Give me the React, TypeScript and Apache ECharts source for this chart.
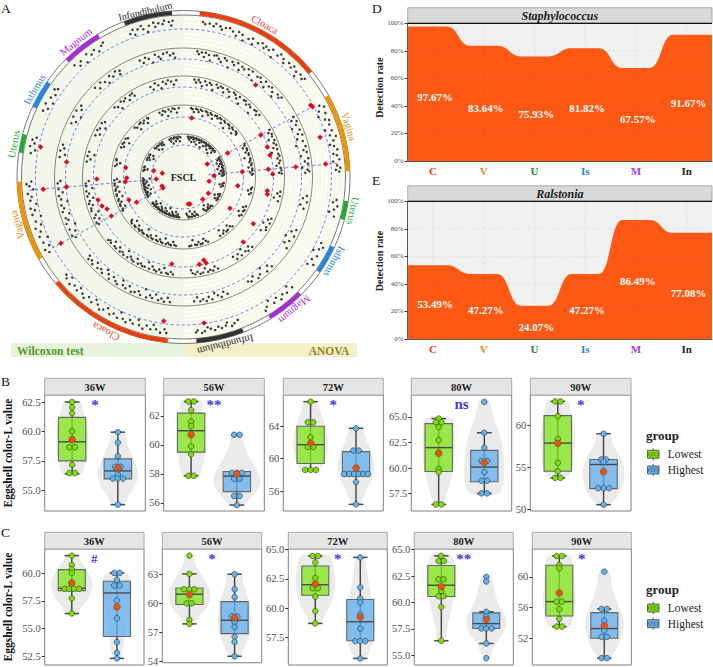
import React, { useEffect, useRef } from "react";
import * as echarts from "echarts";

const SERIF = "Liberation Serif";

// ---------- Panel A data ----------
const sectionLabels: any[] = [
  ["Infundibulum", "#222222", 347, 339, 356, "#333333"],
  ["Cloaca", "#f0431e", 28, 5.7, 50.6, "#ec3f0c"],
  ["Vagina", "#e8900f", 73, 60.6, 88, "#ef9500"],
  ["Uterus", "#22b030", 101.3, 98.4, 105, "#1dac2e"],
  ["Isthmus", "#2a86d8", 119.3, 115, 125, "#1e88e5"],
  ["Magnum", "#a030e0", 140, 135, 148.5, "#a52bd8"],
  ["Infundibulum", "#222222", 166, 158.8, 175.5, "#333333"],
  ["Cloaca", "#f0431e", 206.6, 185.5, 230.3, "#ec3f0c"],
  ["Vagina", "#e8900f", 254, 240.3, 268.4, "#ef9500"],
  ["Uterus", "#22b030", 281, 278.5, 285, "#1dac2e"],
  ["Isthmus", "#2a86d8", 300.5, 295, 305, "#1e88e5"],
  ["Magnum", "#a030e0", 321.5, 315, 329, "#a52bd8"],
];
const solidRadii = [129, 101, 72, 43];
const trackRadii = [166.5, 162];
const dashedRadii = [148, 118, 90, 60, 32];
const faintRadii = [8, 16, 24, 38, 47, 52, 56, 65, 69, 77, 82, 86, 94, 97, 106, 110, 114, 122, 126, 133, 137, 141, 145, 152, 156];
const rayAngles = [[61.4, 25, 150], [84.9, 25, 156], [241.6, 20, 152], [265.1, 25, 156]];
const redPoints = [
  [146, 281.9], [117.8, 277.3], [86.8, 268.7], [58.5, 279.1], [56.8, 269], [30.5, 282], [21.5, 280], [27.3, 265.8],
  [59.6, 7.9], [117, 38.1], [146, 60.6], [147, 61.4], [142.2, 73.8], [142.8, 84.8], [112.6, 84.9], [85.1, 84.8],
  [89.3, 88.1], [89.2, 75.9], [89, 70.3], [87.9, 61.5], [50.3, 61.5], [59, 84.8], [27.1, 61.4], [30.5, 87.6],
  [140.7, 265], [117.6, 265.1], [88.5, 254.9], [86.5, 250.4], [82.9, 247.3], [82, 241.6], [139.3, 241.6], [59.2, 247.1],
  [53.2, 241.6], [58.4, 265.4], [23.3, 247.3], [23.3, 241.8], [27.4, 170], [87.8, 187.7], [145.4, 187.8],
  [25.9, 99.6], [54.9, 99.1], [84.9, 99.3], [85.6, 101.7], [29.7, 123.3], [29.4, 139.3], [27.8, 166.5], [56, 123.9],
  [84, 123.8], [88.3, 137.4], [85.4, 166.3], [88.9, 165.3], [88.7, 169.7], [147.4, 172],
];
// angle, depth below the ring's solid circle
const ring1Dots = [339.6,9.5,340.9,6.2,341.3,11.8,342.7,7.4,344.2,5.1,344.8,8.9,346.3,12.6,347.1,6.8,348.9,4.7,349.4,9.2,350.7,6.1,352.2,7.7,352.9,4.4,354.6,6.3,355.4,9.9,356,5.4,
  7.2,5.8,8.1,7.6,9.7,6.4,11.3,8.2,12.1,5.3,13.8,6.9,14.6,9.7,15.9,7.1,17.4,6,18.8,8.3,20.3,11.4,21,6.7,22.6,8,23.4,13.3,25.2,9.4,26.7,7.2,27.3,12.7,29.1,8.8,30.6,6.6,31.8,10.2,32.4,7.5,33.9,9.1,35.2,6.2,36.1,13.9,37.7,8.4,38.6,5.2,40.3,7.3,41.2,10.6,42.8,6.5,44.4,8.7,45.1,5.6,46.9,7.9,47.6,12.2,48.8,6.4,50.3,8.5,51,5.9,
  62.3,8.6,63.4,4.8,64.2,11.7,65.7,6.3,66.1,14.4,67.9,9.3,68.6,5.5,70.2,7.1,71.8,12.9,72.5,6.6,74.1,9.8,74.9,4.2,76.3,7.7,77.6,12.1,78.4,8.3,79.8,5.7,81.2,10.3,81.9,7.2,83.5,5.1,84.1,11.5,85.7,7.9,86.6,4.9,87.3,9.4,88,6.1,
  98.5,7.2,99.6,10.4,100.8,5.3,102.2,8.1,103.4,12.3,104.7,6.5,115.6,9.2,116.9,5.6,118.1,8.4,119.3,13.1,120.7,6.8,122.6,9.7,124.1,5.2,125,10.8,
  135.4,7.3,136.8,11.9,138.2,6.7,139.9,8.6,141.3,5.4,142.6,9.9,144.2,6.9,145.7,12.2,147.3,7.8,148.4,5,
  159.2,9.1,160.8,7.2,161.9,5.3,163.4,10.2,164.1,7.6,165.7,6.1,166.9,8.3,168.3,5.7,169.8,7.9,170.9,9.8,172.1,6.4,173.2,4.9,174.7,8.1,175.4,6.2,
  186.3,5.1,187.1,8.6,188.6,4.6,190.2,7.3,191.4,11.2,192.3,6.2,193.9,9,195.2,4.8,196.7,7.5,197.4,12.3,199.1,6.9,200.5,9.4,201.8,5.7,203.2,7.8,204.6,13.1,205.3,6.3,207.1,8.7,208.4,5.9,209.9,10.7,211.2,7.1,212.5,4.9,213.9,8.4,215.3,11.6,216.4,6.6,218.2,9.2,219.6,5.2,220.9,7.7,222.7,10.9,223.3,6.4,225.1,8.3,226.8,5.6,227.9,12.1,229.1,7.4,230.2,9.5,
  240.8,8.3,242.2,5.6,243.1,11.4,244.9,7.2,246.3,13.6,247.4,6.2,249.1,9.1,250.7,5.3,251.6,11.9,253.2,7.7,254.8,14.2,255.9,6.3,257.4,9.8,258.3,5.9,259.7,12.4,261.2,7.1,262.6,8.9,263.8,5.4,265.3,11.3,266.6,7.6,267.4,4.9,268.3,9.7,
  278.9,7.4,280.2,11.2,281.4,5.6,282.7,9.3,283.9,6.4,285,10.1,295.3,6.7,296.7,10.3,298.1,5.8,299.4,12.2,300.9,7.4,302.6,10,304.2,6.1,305,8.8,
  315.7,5.9,317.2,10.4,318.4,7.3,320.1,12.5,321.6,5.4,323.1,8.9,324.8,6.6,326.2,10.7,327.9,7.1,329,5.2];
const ring2Dots = [339.4,4.6,340.8,8.2,342.1,3.7,343.6,5.9,345.2,10.6,346.8,3.4,348.3,6.3,349.1,8.7,350.6,4.2,352.4,3.3,353.7,6.6,355.3,5,356,9.4,
  6.3,2.6,7.1,5.2,8.4,3.1,9.6,7.3,10.2,2.8,11.8,4.4,12.7,9.6,14.3,3.6,15.4,2.9,16.6,5.7,17.9,8.1,19.2,3.2,20.4,4.8,21.9,11,23.1,3.9,24.3,6.2,25.7,2.7,27.2,8.6,28.1,4.1,29.4,5.3,31.2,3,32.6,7.9,33.3,2.8,35.1,10.7,36.4,4.4,37.8,3.3,39.2,6.4,40.9,2.9,41.6,8.8,43.3,4.6,44.7,3.1,46.2,6.1,47.4,9.9,48.8,3.7,50.1,5.4,51,2.8,
  61.3,3.9,62.6,7.5,63.7,2.8,65.1,5.1,66.2,10.3,67.8,3.6,69.4,6.9,70.3,2.9,71.7,9.2,73.2,4.4,74.6,12.2,75.8,3.1,77.3,6,78.5,3.3,79.9,9.7,81.4,2.8,82.7,6.6,83.9,3.8,85.5,10.1,86.6,4.7,87.4,3,88,7.2,
  98.7,4.2,100.1,7.8,101.6,3.1,103.2,9,104.8,4.9,115.2,4.3,116.7,8.1,118.3,3.5,119.6,11.3,121.2,5.4,122.9,8.7,124.6,3.7,
  135.3,3.4,136.7,7.2,138.4,2.9,140.1,10.2,141.8,5.3,143.4,3.2,145.2,7.9,146.9,4.4,148.3,6.1,
  159.3,4.3,160.9,7.6,162.3,3.1,163.8,5.8,165.2,8.9,166.7,3.4,168.1,6.5,169.4,2.8,170.9,5.2,172.3,3.6,173.6,7.9,175.1,4.2,
  186.2,3.2,187.4,7.1,188.9,2.8,190.3,5.4,191.7,3.3,193.1,8.4,194.6,3.9,195.8,6,197.3,2.9,198.5,10.6,200.2,3.3,201.4,6.2,203.1,4.1,204.7,2.7,206.2,7.3,207.6,3.5,209.3,5.1,210.1,9.4,211.9,3,213.2,4.6,214.8,7.2,216.3,2.8,217.6,6.4,219.1,9.3,220.4,3.1,221.8,5.6,223.4,3.7,224.9,7.8,226.3,2.9,227.7,5.2,229.2,3.4,230,6.7,
  240.9,5.6,242.3,3,243.7,8.4,245.2,3.6,246.8,11.1,248.1,2.9,249.6,6.2,250.7,4.3,252.4,9.2,253.8,3.2,255.3,5.6,256.9,3.7,258.2,10.4,259.6,4.6,261.3,2.9,262.8,7.2,264.4,3.5,265.7,12.1,267.1,3,268.2,5.8,
  279.2,3.6,280.6,8.3,282.1,3,283.5,6.4,285,4.2,295.6,4.7,297.1,8.2,298.7,3.4,300.2,10.4,301.8,3,303.4,7.1,304.9,4.3,
  315.2,3.3,316.8,7.4,318.6,3,320.4,5.7,321.9,9.3,323.6,3.6,325.1,6.4,327,3.1,328.4,8.3,329,4.9];
const ring3Dots = [339.8,5.1,341.2,8.6,342.9,3.1,344.6,5.8,346.1,9.7,347.7,3.6,349.3,6.2,350.8,3,352.6,4.7,354.1,8.1,355.7,3.9,
  6.4,3,7.6,5.6,8.9,2.7,10.1,4.9,11.4,8.4,12.8,2.9,14.2,6.1,15.6,3.2,16.9,4.6,18.3,9.3,19.7,2.8,21.1,5.4,22.4,3.1,23.8,3.7,25.1,7.6,26.7,2.9,28.2,4.3,29.6,8.7,30.9,2.6,32.3,3.6,33.8,6.4,35.2,3,36.6,9.6,38.1,3.3,39.4,2.7,40.8,5.2,42.3,3.1,43.7,4.4,45.1,10.1,46.6,3.4,47.9,2.8,49.3,5.6,50.7,3,
  61.2,2.9,62.7,5.4,63.9,2.7,65.3,3.6,66.6,8.2,67.9,2.9,69.4,4.7,70.8,2.8,72.1,6.6,73.4,3.2,74.7,9.4,76.2,3.4,77.5,2.7,78.8,5.1,80.3,3,81.7,4.4,83.1,7.3,84.6,3.5,86.1,2.9,87.4,5.3,88,2.7,
  98.6,3,99.9,5.7,101.3,2.8,102.8,8.4,104.4,3.6,115.4,3.7,116.8,6.3,118.3,3,119.7,9.1,121.3,4.2,122.8,3,124.5,7.3,
  135.5,3,137.1,6.2,138.6,2.7,140.2,4.4,141.8,9.2,143.3,3.4,144.9,6.6,146.7,3,148.2,7.1,
  159.3,3.2,160.9,6.3,162.4,2.8,163.9,4.4,165.4,3,166.9,7.2,168.4,3.5,170,2.7,171.6,5.2,173.1,3,174.6,4.3,175.4,7.4,
  186.2,3,187.6,5.2,189.1,2.7,190.3,3.4,191.8,8.1,193.1,2.9,194.7,5.3,196.2,2.7,197.6,3.7,199.1,6.4,200.6,3,202,9.1,203.4,3.3,204.9,2.8,206.3,4.6,207.8,3,209.2,7.3,210.7,2.7,212.1,3.5,213.5,5.6,215,3,216.3,9.2,217.7,2.7,219.1,4.4,220.6,3,222,6.3,223.4,2.8,224.9,3.3,226.2,7.4,227.8,3,229.1,4.4,230.1,2.8,
  240.9,4.3,242.4,2.8,243.8,7.2,245.3,3,246.7,5.4,248.1,9.2,249.7,2.9,251.2,3.6,252.8,6.2,254.1,2.7,255.6,4.3,257.1,8.4,258.6,3,260.1,5.2,261.6,2.8,263.1,9.1,264.6,3.3,266.2,3,267.6,6.1,
  279.1,3,280.7,6.4,282.3,2.8,283.8,9.2,285,3.4,295.3,3.5,296.9,7.2,298.6,2.8,300.2,4.4,301.9,9.1,303.4,3,305,5.3,
  315.3,3,316.9,5.3,318.4,9.1,320.2,2.8,321.8,4.6,323.5,3,325.1,7.2,326.7,3.3,328.3,2.8,329,6.1];
const ring4Dots = [339.5,3.4,341,6.3,342.7,2.6,344.4,4.2,346,9.1,347.5,2.9,349.2,5.3,350.9,2.6,352.6,3.4,354.2,7.2,356,2.8,
  6.3,2.7,7.6,3.6,9,6.2,10.4,2.6,11.8,3,13.1,5.3,14.5,2.5,15.9,3.4,17.3,8.1,18.8,2.6,20.2,3.1,21.6,5.4,23,2.6,24.5,3.6,25.9,7.2,27.3,3,28.8,2.6,30.2,4.3,31.7,2.7,33.1,3,34.6,6.4,36,2.6,37.4,3.4,38.9,9.1,40.3,2.7,41.7,3,43.2,5.2,44.6,2.6,46.1,3.5,47.5,7.3,48.9,2.7,50.4,3.2,51,4.6,
  61.4,2.7,62.8,3.4,64.2,6.2,65.7,2.6,67.1,3,68.5,5.3,70,2.6,71.4,3.3,72.9,8.2,74.3,2.7,75.8,3,77.2,4.4,78.7,2.6,80.1,3.2,81.6,6.3,83,2.7,84.5,3,86,5.2,87.3,2.6,88,3.6,
  98.7,2.7,100.2,3.4,101.7,6.1,103.3,2.6,104.8,4.2,115.2,3,116.8,5.3,118.5,2.6,120,3.4,121.6,7.3,123.2,2.7,124.8,4.3,
  135.2,2.6,136.8,4.4,138.4,7.1,140,3,141.6,2.6,143.2,5.2,144.9,3,146.5,8.1,148.1,2.7,
  159.1,2.7,160.7,4.4,162.3,7.1,163.9,3,165.5,2.6,167.1,5.2,168.7,2.7,170.3,3.4,171.9,8.2,173.5,3,175.1,2.6,
  186.2,2.6,187.6,3.4,189,6.3,190.4,2.7,191.9,3,193.3,4.4,194.8,2.6,196.2,8.1,197.7,2.7,199.1,3.2,200.6,5.3,202,2.6,203.5,3.4,204.9,7.2,206.4,2.7,207.8,3,209.3,5.1,210.7,2.6,212.2,3.4,213.6,9.2,215.1,2.7,216.5,3,218,4.4,219.4,2.6,220.9,3.4,222.3,6.3,223.8,2.7,225.2,3,226.7,8.1,228.1,2.6,229.6,3.4,230.2,5.1,
  241,2.7,242.5,3.5,243.9,7.1,245.4,2.6,246.8,3,248.3,5.2,249.8,2.7,251.2,3.4,252.7,8.1,254.2,2.6,255.6,3,257.1,6.2,258.6,2.7,260,3.4,261.5,5.3,263,2.6,264.4,3,265.9,8.1,267.3,2.7,268.2,5.4,
  279.1,2.7,280.7,4.4,282.3,7.2,283.9,3,285,2.6,295.4,3,297,5.2,298.6,2.6,300.2,3.4,301.9,8.1,303.5,2.7,305,4.3,
  315.3,2.6,316.9,4.4,318.5,8.2,320.2,3,321.8,2.6,323.4,5.1,325,3,326.7,7.3,328.3,2.7,329,3.6];
const ring5Dots = [339.3,3.1,341,5.4,342.2,2.4,343.7,8.2,345.1,3.4,346.8,2.3,348.1,6.3,349.6,2.9,351.2,4.4,352.7,2.2,354.1,7.1,355.6,3.2,
  6.2,2.3,7.4,3.6,8.7,5.3,9.9,2.4,11.1,2.9,12.4,7.2,13.6,2.2,14.9,4.1,16.1,2.7,17.3,6.3,18.6,2.3,19.8,3.4,21.1,8.2,22.3,2.4,23.6,3,24.8,5.2,26,2.2,27.3,3.6,28.5,9.1,29.8,2.4,31,2.8,32.3,6.4,33.5,2.3,34.8,3.5,36,5.1,37.3,2.2,38.5,2.9,39.8,7.3,41,2.4,42.3,4.2,43.5,2.6,44.8,9.2,46,2.3,47.3,3.4,48.5,6.1,49.8,2.4,51,3,
  61.3,2.3,62.6,3.6,63.9,5.4,65.2,2.3,66.5,2.9,67.8,7.2,69.1,2.4,70.4,4.3,71.7,2.6,73,6.2,74.3,2.3,75.6,3.4,76.9,8.1,78.2,2.4,79.5,2.9,80.8,5.2,82.1,2.2,83.4,3.6,84.7,7.1,86,2.4,87.3,3,88,4.6,
  98.6,2.3,100,3.6,101.4,6.2,102.8,2.4,104.2,4.3,115.1,2.7,116.6,4.4,118,2.3,119.5,7.2,121,3.1,122.4,2.3,123.9,5.3,125,2.7,
  135.3,2.3,136.8,3.6,138.3,6.2,139.8,2.4,141.3,4.3,142.8,2.6,144.3,8.1,145.8,2.3,147.3,3.4,148.4,5.2,
  159.2,2.3,160.7,3.6,162.2,6.4,163.7,2.4,165.2,2.9,166.7,5.1,168.2,2.3,169.7,8.1,171.2,2.7,172.7,2.3,174.2,4.3,175.4,6.2,
  186.1,2.3,187.3,2.8,188.5,5.2,189.7,2.4,190.9,3.6,192.1,7.3,193.3,2.3,194.5,2.9,195.7,4.4,196.9,2.3,198.1,6.1,199.3,2.8,200.5,2.3,201.7,3.6,202.9,9.2,204.1,2.4,205.3,2.7,206.5,5.3,207.7,2.3,208.9,3.4,210.1,7.1,211.3,2.3,212.5,2.9,213.7,4.4,214.9,2.3,216.1,6.2,217.3,2.8,218.5,2.3,219.7,3.6,220.9,8.1,222.1,2.4,223.3,2.7,224.5,5.2,225.7,2.3,226.9,3.4,228.1,6.4,229.3,2.3,230.1,3,
  241,2.3,242.2,3.4,243.4,6.2,244.6,2.3,245.8,2.9,247,4.4,248.2,2.4,249.4,8.1,250.6,2.7,251.8,2.3,253,5.3,254.2,2.4,255.4,3.6,256.6,7.2,257.8,2.3,259,2.8,260.2,4.3,261.4,2.4,262.6,6.1,263.8,2.7,265,2.3,266.2,3.4,267.4,9.1,268.2,2.4,
  279,2.3,280.5,3.6,282,6.3,283.5,2.4,285,2.9,295.2,2.7,296.7,5.2,298.2,2.3,299.7,3.6,301.2,8.1,302.7,2.4,304.2,2.9,305,6.2,
  315.2,2.3,316.7,3.4,318.2,6.3,319.7,2.4,321.2,2.9,322.7,8.2,324.2,2.3,325.7,4.4,327.2,2.7,328.7,2.3,329,5.3];
const ringDots = [[162, ring1Dots], [129, ring2Dots], [101, ring3Dots], [72, ring4Dots], [43, ring5Dots]];

// ---------- Panels D, E data ----------
const sites = ["C", "V", "U", "Is", "M", "In"];
const siteColors = ["#e83a20", "#d8901a", "#2e7d32", "#2a86d8", "#a040f0", "#222222"];
const staphValues = [97.67, 83.64, 75.93, 81.82, 67.57, 91.67];
const staphLabelY = [46.5, 38.5, 34.2, 38.5, 30.3, 42.4];
const ralstValues = [53.49, 47.27, 24.07, 47.27, 86.49, 77.08];
const ralstLabelY = [25.4, 21.3, 8.7, 21.3, 41.9, 33.5];

// ---------- Panels B, C data: [value, beeswarm offset], box = [lo, q1, median, q3, hi] ----------
const b36LowDots = [[62.5,0],[62.05,0],[61.56,0],[60.03,0],[58.66,-.06],[58.66,.06],[57.16,0],[56.47,-.06],[56.47,.06]];
const b36LowBox = [56.4,57.5,59.12,61.2,62.5]; const b36LowMean = 59.32;
const b36LowViolin = [[62.6,.16],[61.5,.26],[60,.34],[58.5,.34],[57.2,.28],[56.3,.18]];
const b36HighDots = [[59.94,0],[59.06,0],[57.9,0],[57,-.06],[57,.06],[56.33,0],[56,-.11],[56,0],[56,.11],[53.78,0]];
const b36HighBox = [53.78,55.97,56.65,57.67,59.94]; const b36HighMean = 56.9;
const b36HighViolin = [[60,.12],[59,.2],[57.8,.33],[56.5,.44],[55.4,.38],[54.6,.25],[53.7,.1]];

const b56LowDots = [[63,-.06],[63,.06],[62.4,0],[61.6,0],[61.3,0],[60.7,0],[59.9,0],[59.35,0],[57.86,-.06],[57.86,.06]];
const b56LowBox = [57.86,59.5,60.98,62.2,63]; const b56LowMean = 60.7;
const b56LowViolin = [[63.1,.2],[62.2,.26],[61,.3],[60,.3],[59,.28],[58.4,.24],[57.8,.16]];
const b56HighDots = [[60.7,-.06],[60.7,.06],[58.07,-.11],[58.07,0],[58.07,.11],[57.65,-.06],[57.65,.06],[56.47,-.06],[56.47,.06],[55.84,0]];
const b56HighBox = [55.84,56.77,57.84,58.16,58.16]; const b56HighMean = 57.98;
const b56HighViolin = [[60.8,.12],[60,.16],[59,.3],[58,.48],[57.2,.5],[56.5,.35],[55.8,.12]];

const b72LowDots = [[67.05,0],[64.5,-.06],[64.5,.06],[62.64,0],[61.6,0],[61.44,-.06],[61.44,.06],[58.6,-.12],[58.6,0],[58.6,.12]];
const b72LowBox = [58.6,59.4,61.73,64,67.05]; const b72LowMean = 61.9;
const b72LowViolin = [[67.1,.12],[66,.2],[64.5,.3],[62,.38],[60,.33],[58.6,.18]];
const b72HighDots = [[63.75,0],[61,-.06],[61,.06],[58.1,-.26],[58.1,-.15],[58.1,-.04],[58.1,.06],[58.1,.16],[58.1,.26],[57.1,0],[54.35,0]];
const b72HighBox = [54.35,57.85,58.3,60.87,63.75]; const b72HighMean = 58.85;
const b72HighViolin = [[63.8,.12],[62.5,.22],[61,.32],[59,.4],[57.5,.35],[56,.22],[54.3,.08]];

const b80LowDots = [[64.84,0],[64.48,-.06],[64.48,.06],[64.02,0],[62.75,0],[61.5,0],[59.93,0],[59.6,0],[56.44,-.06],[56.44,.06]];
const b80LowBox = [56.44,59.67,62,64.35,64.84]; const b80LowMean = 61.44;
const b80LowViolin = [[64.9,.28],[63.5,.35],[62,.36],[60.5,.34],[59,.28],[57.5,.18],[56.4,.1]];
const b80HighDots = [[66.47,0],[63.46,0],[62,0],[60.7,-.06],[60.7,.06],[59.6,0],[58.76,-.06],[58.76,.06],[57.52,-.06],[57.52,.06]];
const b80HighBox = [57.52,58.66,60.1,61.73,63.46]; const b80HighMean = 60.55;
const b80HighViolin = [[66.6,.1],[65,.2],[63.5,.32],[62,.4],[60,.44],[58.5,.42],[57.5,.3]];

const b90LowDots = [[62.9,-.06],[62.9,.06],[61.15,0],[58.4,0],[57.9,0],[55.56,0],[54.56,0],[53.76,-.06],[53.76,.06]];
const b90LowBox = [53.76,54.56,57.92,61.2,62.9]; const b90LowMean = 57.88;
const b90LowViolin = [[63,.2],[61.5,.3],[59,.37],[57,.36],[55,.32],[53.7,.18]];
const b90HighDots = [[59.04,0],[55.96,-.05],[55.96,.05],[55.68,0],[52.52,-.12],[52.52,0],[52.52,.12],[50.56,0]];
const b90HighBox = [50.56,52.48,55.36,55.96,59.04]; const b90HighMean = 54.48;
const b90HighViolin = [[59.2,.12],[57.8,.2],[56,.38],[54.5,.46],[53,.42],[51.5,.3],[50.5,.1]];

const c36LowDots = [[61.6,0],[60.75,0],[60.36,0],[60.03,0],[59.13,0],[58.6,-.16],[58.6,-.06],[58.6,.05],[58.6,.16],[57.74,0],[56.36,0]];
const c36LowBox = [56.36,58.43,58.64,60.33,61.6]; const c36LowMean = 59.13;
const c36LowViolin = [[61.7,.12],[61,.22],[60,.38],[59,.46],[58,.4],[57.2,.26],[56.3,.1]];
const c36HighDots = [[60.03,-.06],[60.03,.06],[59.4,0],[58.9,-.06],[58.9,.06],[57.53,0],[55.93,0],[53.76,0],[52.8,0],[52.3,0]];
const c36HighBox = [52.3,54.28,58.22,59.28,60.03]; const c36HighMean = 56.96;
const c36HighViolin = [[60.1,.2],[59,.34],[58,.3],[56,.22],[54.5,.18],[53.3,.14],[52.3,.08]];

const c56LowDots = [[64.92,0],[63.03,0],[61.45,-.12],[61.45,0],[61.45,.11],[60,-.06],[60,.05],[58.3,0],[57.88,0]];
const c56LowBox = [57.88,59.87,60.94,61.58,63.03]; const c56LowMean = 60.9;
const c56LowViolin = [[65,.08],[64,.14],[63,.26],[61.5,.44],[60.5,.46],[59.5,.38],[58.5,.2],[57.8,.1]];
const c56HighDots = [[63,0],[61.45,0],[60.64,0],[58.65,-.06],[58.65,.06],[58.08,0],[57.57,0],[56.56,0],[56.02,0],[54.54,0]];
const c56HighBox = [54.54,56.87,58.25,60.17,63]; const c56HighMean = 58.5;
const c56HighViolin = [[63.1,.14],[62,.2],[60.5,.3],[58.5,.37],[57,.34],[55.5,.22],[54.5,.1]];

const c72LowDots = [[64.46,-.06],[64.46,.06],[63.9,0],[62.57,0],[61.7,-.06],[61.7,.06],[60.97,0],[59.74,0],[58.69,0]];
const c72LowBox = [58.69,61.1,62,63.6,64.46]; const c72LowMean = 62.06;
const c72LowViolin = [[64.5,.3],[63.5,.4],[62.3,.44],[61,.4],[60,.3],[59.2,.18],[58.6,.1]];
const c72HighDots = [[64.34,0],[61.77,0],[60.83,0],[60.49,0],[59.46,0],[58.26,0],[57.17,-.11],[57.17,0],[57.17,.11],[55.69,0]];
const c72HighBox = [55.69,57.2,58.83,60.74,64.34]; const c72HighMean = 59.23;
const c72HighViolin = [[64.4,.08],[63,.15],[61.5,.22],[59.5,.3],[58,.33],[56.8,.25],[55.6,.1]];

const c80LowDots = [[64.42,0],[63.94,-.06],[63.94,.06],[62.2,-.06],[62.2,.05],[61.1,0],[60.6,-.06],[60.6,.05],[59.59,0],[56.37,0]];
const c80LowBox = [56.37,60.57,61.64,63.5,64.42]; const c80LowMean = 61.5;
const c80LowViolin = [[64.5,.2],[63,.33],[61.5,.33],[60,.26],[58.5,.18],[57.3,.12],[56.3,.08]];
const c80HighDots = [[62.43,0],[61.99,0],[59.12,0],[58.68,0],[57.54,-.11],[57.54,0],[57.54,.12],[56.12,0],[54.73,0]];
const c80HighBox = [56.12,57.54,58,59.02,59.12]; const c80HighMean = 58.39;
const c80HighViolin = [[62.5,.1],[61.2,.18],[60,.26],[58.5,.44],[57.5,.42],[56,.2],[54.7,.06]];

const c90LowDots = [[62.74,-.06],[62.74,.06],[61.57,0],[61.13,0],[56.78,-.06],[56.78,.06],[55.78,0],[54.52,0],[53.52,-.06],[53.52,.06]];
const c90LowBox = [53.52,54.9,56.78,61.52,62.74]; const c90LowMean = 57.9;
const c90LowViolin = [[62.8,.24],[61.5,.3],[59,.34],[57,.36],[55,.32],[53.4,.2]];
const c90HighDots = [[60.69,0],[55.83,-.06],[55.83,.06],[54.3,0],[53,0],[52.17,-.06],[52.17,.06],[49.4,-.06],[49.4,.06]];
const c90HighBox = [49.4,52,53.26,55.34,55.83]; const c90HighMean = 53.65;
const c90HighViolin = [[60.8,.1],[58.5,.18],[56.5,.3],[54.5,.42],[53,.42],[51,.3],[49.3,.1]];

const weeks = ["36W", "56W", "72W", "80W", "90W"];
const rowBRange = [[53.24,63.1],[55.43,63.45],[53.53,67.87],[55.8,67.15],[49.8,63.67]];
const rowBTicks = [[55,57.5,60,62.5],[56,58,60,62],[56,60,64],[57.5,60,62.5,65],[50,55,60]];
const rowBDigits = [1,0,0,1,0];
const rowBSig = [["*",62.5],["**",62.97],["*",67],["ns",66.27],["*",62.83]];
const rowCRange = [[51.7,62.2],[53.87,65.6],[55.13,65.06],[54.08,65.07],[48.5,63.65]];
const rowCTicks = [[52.5,55,57.5,60],[54,57,60,63],[57.5,60,62.5,65],[55,57.5,60,62.5,65],[52,56,60]];
const rowCDigits = [1,0,1,1,0];
const rowCSig = [["#",61.36],["*",64.92],["*",64.49],["**",64.43],["*",62.78]];

const rowBData = [
  [b36LowDots,b36LowBox,b36LowMean,b36LowViolin,b36HighDots,b36HighBox,b36HighMean,b36HighViolin],
  [b56LowDots,b56LowBox,b56LowMean,b56LowViolin,b56HighDots,b56HighBox,b56HighMean,b56HighViolin],
  [b72LowDots,b72LowBox,b72LowMean,b72LowViolin,b72HighDots,b72HighBox,b72HighMean,b72HighViolin],
  [b80LowDots,b80LowBox,b80LowMean,b80LowViolin,b80HighDots,b80HighBox,b80HighMean,b80HighViolin],
  [b90LowDots,b90LowBox,b90LowMean,b90LowViolin,b90HighDots,b90HighBox,b90HighMean,b90HighViolin],
];
const rowCData = [
  [c36LowDots,c36LowBox,c36LowMean,c36LowViolin,c36HighDots,c36HighBox,c36HighMean,c36HighViolin],
  [c56LowDots,c56LowBox,c56LowMean,c56LowViolin,c56HighDots,c56HighBox,c56HighMean,c56HighViolin],
  [c72LowDots,c72LowBox,c72LowMean,c72LowViolin,c72HighDots,c72HighBox,c72HighMean,c72HighViolin],
  [c80LowDots,c80LowBox,c80LowMean,c80LowViolin,c80HighDots,c80HighBox,c80HighMean,c80HighViolin],
  [c90LowDots,c90LowBox,c90LowMean,c90LowViolin,c90HighDots,c90HighBox,c90HighMean,c90HighViolin],
];

// ---------- Layout ----------
const rowBX = [[44.7,145.3],[163.7,264.3],[283.3,383.3],[411.3,511.7],[530.3,631]];
const rowCX = [[44.7,144],[162.3,261.7],[288.3,387.3],[414.3,513.3],[532.3,631.3]];
const rad = (a: number) => ((a - 90) * Math.PI) / 180;

function txt(text: string, x: number, y: number, o: any = {}) {
  const { rotation, ...style } = o;
  return {
    type: "text", x, y, rotation: rotation || 0, z: 50,
    style: { text, fill: "#222", fontFamily: SERIF, fontSize: 11, align: "center", verticalAlign: "middle", ...style },
  };
}

function buildOption() {
  const grid: any[] = [], xAxis: any[] = [], yAxis: any[] = [], series: any[] = [], graphic: any[] = [];

  // ---- Panel A ----
  const polarSeries = (data: any[], z: number, renderItem: any) => ({
    type: "custom", coordinateSystem: "polar", polarIndex: 0, silent: true, clip: false, z,
    data, encode: { radius: 0, angle: 1 }, renderItem,
  });
  const radiusOf = (params: any, api: any, r: number) => {
    const p = api.coord([r, 0]);
    return { cx: params.coordSys.cx, cy: params.coordSys.cy, r: Math.hypot(p[0] - params.coordSys.cx, p[1] - params.coordSys.cy) };
  };
  const halves = [[162, 0, 180, "#fbfbf0"], [162, 180, 360, "#f3f8eb"]];
  series.push(polarSeries(halves.map((h) => [h[0], h[1]]), 1, (params: any, api: any) => {
    const h: any = halves[params.dataIndex];
    const { cx, cy, r } = radiusOf(params, api, h[0]);
    return { type: "sector", shape: { cx, cy, r0: 0, r, startAngle: rad(h[1]), endAngle: rad(h[2]), clockwise: true }, style: { fill: h[3] } };
  }));
  const circles = (radii: number[], z: number, style: any) =>
    series.push(polarSeries(radii.map((r) => [r, 0]), z, (params: any, api: any) => {
      const { cx, cy, r } = radiusOf(params, api, api.value(0));
      return { type: "circle", shape: { cx, cy, r }, style: { fill: "none", ...style } };
    }));
  circles(faintRadii, 2, { stroke: "#eef0e2", lineWidth: 0.6 });
  circles(dashedRadii, 3, { stroke: "#5050f0", lineWidth: 0.8, lineDash: [3, 2.5] });
  circles(solidRadii, 3, { stroke: "#666666", lineWidth: 0.8 });
  circles(trackRadii, 3, { stroke: "#777777", lineWidth: 1 });
  series.push(polarSeries(rayAngles.map((a) => [a[2], a[0]]), 3, (params: any, api: any) => {
    const a = rayAngles[params.dataIndex];
    const p = api.coord([a[1], a[0]]), q = api.coord([a[2], a[0]]);
    return { type: "line", shape: { x1: p[0], y1: p[1], x2: q[0], y2: q[1] }, style: { stroke: "#5050f0", lineWidth: 0.8, lineDash: [3, 2.5] } };
  }));
  series.push(polarSeries(sectionLabels.map((s) => [162.5, s[3]]), 6, (params: any, api: any) => {
    const s = sectionLabels[params.dataIndex];
    const { cx, cy } = params.coordSys;
    const r0 = radiusOf(params, api, 162.3).r, r1 = radiusOf(params, api, 166.5).r;
    const isTop = params.dataIndex === 0;
    const mid = api.coord([isTop ? 170.3 : 172.8, s[2]]);
    return {
      type: "group",
      children: [
        { type: "sector", shape: { cx, cy, r0, r: r1, startAngle: rad(s[3]), endAngle: rad(s[4]), clockwise: true }, style: { fill: s[5] } },
        { type: "text", x: mid[0], y: mid[1], rotation: (-s[2] * Math.PI) / 180,
          style: { text: s[0], fill: s[1], fontFamily: SERIF, fontSize: isTop ? 10 : 10.5, align: "center", verticalAlign: "middle" } },
      ],
    };
  }));
  const dots: number[][] = [];
  ringDots.forEach(([solid, list]: any) => {
    for (let i = 0; i < list.length; i += 2) dots.push([solid - list[i + 1], list[i]]);
  });
  series.push({ type: "scatter", coordinateSystem: "polar", polarIndex: 0, silent: true, z: 4, symbolSize: 2.5,
    itemStyle: { color: "#383838", opacity: 1 }, data: dots });
  series.push({ type: "scatter", coordinateSystem: "polar", polarIndex: 0, silent: true, z: 5, symbol: "diamond", symbolSize: 5.5,
    itemStyle: { color: "#e00b1c", opacity: 1 }, data: redPoints });

  graphic.push({ type: "rect", shape: { x: 11, y: 343, width: 173, height: 14 }, style: { fill: "#e7f3dc" }, z: 0 });
  graphic.push({ type: "rect", shape: { x: 184, y: 343, width: 173, height: 14 }, style: { fill: "#f4efc9" }, z: 0 });
  graphic.push(txt("Wilcoxon test", 17, 350.5, { align: "left", fill: "#4f9a22", fontWeight: "bold", fontSize: 11.5 }));
  graphic.push(txt("ANOVA", 329, 350.5, { fill: "#8c8a22", fontWeight: "bold", fontSize: 11.5 }));
  graphic.push(txt("FSCL", 183.5, 177, { fontWeight: "bold", fontSize: 10 }));

  // ---- Panels D, E ----
  const areaPanel = (top: number, bottom: number, title: string, values: number[], labelY: number[], nameY: number) => {
    const idx = grid.length;
    const left = 407.7, right = 712;
    grid.push({ left, top, width: right - left, height: bottom - top, show: true, backgroundColor: "#f0f0f0", borderWidth: 0 });
    xAxis.push({ type: "category", gridIndex: idx, data: sites.map((s, i) => ({ value: s, textStyle: { color: siteColors[i] } })),
      axisLine: { lineStyle: { color: "#555", width: 1 } }, axisTick: { alignWithLabel: true, length: 3, lineStyle: { color: "#333" } },
      axisLabel: { fontFamily: SERIF, fontWeight: "bold", fontSize: 11, margin: 4 }, splitLine: { show: false } });
    yAxis.push({ type: "value", gridIndex: idx, min: 0, max: 100, interval: 20,
      axisLine: { show: true, lineStyle: { color: "#555", width: 1 } }, axisTick: { show: true, length: 3, lineStyle: { color: "#333" } },
      axisLabel: { fontFamily: SERIF, fontSize: 7, color: "#4d4d4d", margin: 4, formatter: "{value}%" }, splitLine: { show: false } });
    series.push({
      type: "custom", xAxisIndex: idx, yAxisIndex: idx, silent: true, clip: false, z: 2,
      data: values.map((v, i) => [i, v]), encode: { x: 0, y: 1 },
      renderItem: (params: any, api: any) => {
        if (params.dataIndex !== 0) return null;
        const base = api.coord([0, 0]);
        const step = api.coord([1, 0])[0] - base[0];
        const px = (i: number) => base[0] + i * step;
        const py = (v: number) => api.coord([0, v])[1];
        let d = `M${px(-0.5)} ${base[1]} L${px(-0.5)} ${py(values[0])}`;
        values.forEach((v, i) => {
          if (i === values.length - 1) return;
          const a = px(i + 0.27), b = px(i + 0.73), m = (a + b) / 2;
          d += ` L${a} ${py(v)} C${m} ${py(v)} ${m} ${py(values[i + 1])} ${b} ${py(values[i + 1])}`;
        });
        d += ` L${px(values.length - 0.5)} ${py(values[values.length - 1])} L${px(values.length - 0.5)} ${base[1]} Z`;
        const children: any[] = [{ type: "path", shape: { pathData: d }, style: { fill: "#fe5815" } }];
        const gl = { stroke: "rgba(70,70,70,0.16)", lineWidth: 0.6, lineDash: [2.5, 2.5] };
        [20, 40, 60, 80].forEach((t) =>
          children.push({ type: "line", shape: { x1: px(-0.5), y1: py(t), x2: px(5.5), y2: py(t) }, style: gl }));
        values.forEach((_, i) =>
          children.push({ type: "line", shape: { x1: px(i), y1: py(0), x2: px(i), y2: py(100) }, style: gl }));
        values.forEach((v, i) =>
          children.push({ type: "text", x: px(i) + 2, y: py(labelY[i]),
            style: { text: v.toFixed(2) + "%", fill: "#ffffff", fontFamily: SERIF, fontWeight: "bold", fontSize: 11, align: "center", verticalAlign: "middle" } }));
        return { type: "group", children };
      },
    });
    graphic.push({ type: "rect", shape: { x: left, y: top - 15.5, width: right - left, height: 15.5 }, style: { fill: "#d9d9d9", stroke: "#999", lineWidth: 0.8 }, z: 40 });
    graphic.push({ type: "line", shape: { x1: left, y1: top, x2: right, y2: top }, style: { stroke: "#111", lineWidth: 1.3 }, z: 41 });
    graphic.push(txt(title, (left + right) / 2, top - 7.5, { fontStyle: "italic", fontWeight: "bold", fontSize: 12 }));
    graphic.push(txt("Detection rate", 379, nameY, { rotation: Math.PI / 2, fontWeight: "bold", fontSize: 10 }));
  };
  areaPanel(23.3, 161, "Staphylococcus", staphValues, staphLabelY, 87.5);
  areaPanel(201.3, 339, "Ralstonia", ralstValues, ralstLabelY, 261);

  // ---- Panels B, C ----
  const LOW = { fill: "rgba(130,230,30,0.78)", dot: "#7fe000" };
  const HIGH = { fill: "rgba(100,175,238,0.78)", dot: "#61b3ee" };
  const boxRow = (top: number, bottom: number, xs: number[][], ranges: number[][], ticks: number[][], digits: number[], sig: any[], data: any[]) => {
    xs.forEach((xr, k) => {
      const idx = grid.length;
      const [lowDots, lowBox, lowMean, lowViolin, highDots, highBox, highMean, highViolin] = data[k];
      grid.push({ left: xr[0], top, width: xr[1] - xr[0], height: bottom - top, show: true, backgroundColor: "#fff", borderColor: "#7f7f7f", borderWidth: 1 });
      xAxis.push({ type: "value", gridIndex: idx, min: 0.4, max: 2.6, show: false });
      yAxis.push({ type: "value", gridIndex: idx, min: ranges[k][0], max: ranges[k][1],
        name: k === 0 ? "Eggshell color-L value" : "", nameLocation: "middle", nameGap: 31, nameRotate: 90,
        nameTextStyle: { fontFamily: SERIF, fontWeight: "bold", fontSize: 11.5, color: "#111" },
        axisLine: { show: false },
        axisTick: { show: true, length: 3, lineStyle: { color: "#333" }, customValues: ticks[k] },
        axisLabel: { fontFamily: SERIF, fontSize: 10.5, color: "#4d4d4d", margin: 4, customValues: ticks[k],
          formatter: (v: number) => v.toFixed(digits[k]) },
        splitLine: { show: false } });
      const groups: any[] = [[1, lowBox, lowViolin, LOW], [2, highBox, highViolin, HIGH]];
      series.push({
        type: "custom", xAxisIndex: idx, yAxisIndex: idx, silent: true, clip: false, z: 2,
        data: groups.map((g) => [g[0], g[1][2]]), encode: { x: 0, y: 1 },
        renderItem: (params: any, api: any) => {
          const [cat, box, violin, col] = groups[params.dataIndex];
          const c = (x: number, y: number) => api.coord([x, y]);
          const right = violin.map((p: number[]) => c(cat + p[1], p[0]));
          const left = violin.slice().reverse().map((p: number[]) => c(cat - p[1], p[0]));
          const ln = { stroke: "#4a4a4a", lineWidth: 1.5 };
          const tl = c(cat - 0.3, box[3]), br = c(cat + 0.3, box[1]);
          const children: any[] = [
            { type: "polygon", shape: { points: right.concat(left), smooth: 0.35 }, style: { fill: "#ebebeb" } },
            { type: "line", shape: { x1: c(cat, 0)[0], y1: c(cat, box[4])[1], x2: c(cat, 0)[0], y2: c(cat, box[0])[1] }, style: ln },
            { type: "rect", shape: { x: tl[0], y: tl[1], width: br[0] - tl[0], height: br[1] - tl[1] }, style: { fill: col.fill, stroke: "#666", lineWidth: 1.1 } },
            { type: "line", shape: { x1: tl[0], y1: c(cat, box[2])[1], x2: br[0], y2: c(cat, box[2])[1] }, style: { stroke: "#4a4a4a", lineWidth: 1.4 } },
          ];
          if (box[4] > box[3]) children.push({ type: "line", shape: { x1: c(cat - 0.16, 0)[0], y1: c(cat, box[4])[1], x2: c(cat + 0.16, 0)[0], y2: c(cat, box[4])[1] }, style: ln });
          children.push({ type: "line", shape: { x1: c(cat - 0.16, 0)[0], y1: c(cat, box[0])[1], x2: c(cat + 0.16, 0)[0], y2: c(cat, box[0])[1] }, style: ln });
          return { type: "group", children };
        },
      });
      const dotSeries = (pts: number[][], cat: number, col: any) => ({
        type: "scatter", xAxisIndex: idx, yAxisIndex: idx, silent: true, z: 3, symbolSize: 5.6,
        itemStyle: { color: col.dot, borderColor: "#333", borderWidth: 0.6, opacity: 1 },
        data: pts.map((p) => [cat + p[1], p[0]]),
      });
      series.push(dotSeries(lowDots, 1, LOW), dotSeries(highDots, 2, HIGH));
      series.push({ type: "scatter", xAxisIndex: idx, yAxisIndex: idx, silent: true, z: 4, symbolSize: 6.8,
        itemStyle: { color: "#e5530f", borderColor: "#555", borderWidth: 0.5, opacity: 1 },
        data: [[1, lowMean], [2, highMean]] });
      series.push({
        type: "custom", xAxisIndex: idx, yAxisIndex: idx, silent: true, clip: false, z: 5,
        data: [[1.5, sig[k][1]]], encode: { x: 0, y: 1 },
        renderItem: (_: any, api: any) => {
          const p = api.coord([api.value(0), api.value(1)]);
          const s = sig[k][0];
          const star = s.includes("*");
          return { type: "text", x: p[0], y: p[1] + (star ? 3 : 0),
            style: { text: s, fill: "#3a3af5", fontFamily: SERIF, fontWeight: "bold", fontSize: s === "ns" ? 15 : star ? 15 : 13, align: "center", verticalAlign: "middle" } };
        },
      });
      graphic.push({ type: "rect", shape: { x: xr[0], y: top - 16.7, width: xr[1] - xr[0], height: 16.7 }, style: { fill: "#e5e5e5", stroke: "#a8a8a8", lineWidth: 1 }, z: 40 });
      graphic.push(txt(weeks[k], (xr[0] + xr[1]) / 2, top - 8, { fontWeight: "bold", fontSize: 10.5 }));
    });
  };
  boxRow(395, 511, rowBX, rowBRange, rowBTicks, rowBDigits, rowBSig, rowBData);
  boxRow(549, 665, rowCX, rowCRange, rowCTicks, rowCDigits, rowCSig, rowCData);

  // ---- Legends ----
  const key = (y: number, fill: string) => {
    const x0 = 647.5, w = 11.5, h = 8;
    const cx = x0 + w / 2;
    graphic.push({ type: "line", shape: { x1: cx, y1: y - 6, x2: cx, y2: y + 6 }, style: { stroke: "#333", lineWidth: 0.9 }, z: 40 });
    graphic.push({ type: "rect", shape: { x: x0, y: y - h / 2, width: w, height: h }, style: { fill, stroke: "#555", lineWidth: 0.9 }, z: 41 });
    graphic.push({ type: "line", shape: { x1: x0, y1: y, x2: x0 + w, y2: y }, style: { stroke: "#444", lineWidth: 0.9 }, z: 42 });
    [-3, 0, 3].forEach((d) =>
      graphic.push({ type: "circle", shape: { cx: cx + d, cy: y, r: 1.8 }, style: { fill, stroke: "#333", lineWidth: 0.4 }, z: 43 }));
  };
  const legend = (yTitle: number, y1: number, y2: number) => {
    graphic.push(txt("group", 646, yTitle, { align: "left", fontWeight: "bold", fontSize: 13 }));
    key(y1, LOW.dot); key(y2, HIGH.dot);
    graphic.push(txt("Lowest", 667.7, y1, { align: "left", fontSize: 11.5 }));
    graphic.push(txt("Highest", 667.7, y2, { align: "left", fontSize: 11.5 }));
  };
  legend(435.7, 454.3, 470);
  legend(589.3, 608, 623.7);

  // ---- Panel letters ----
  ([["A", 1, 8], ["D", 372, 8], ["E", 372, 180], ["B", 1, 381], ["C", 1, 532]] as any[]).forEach(([t, x, y]) =>
    graphic.push(txt(t, x, y, { align: "left", fontSize: 13.5, fill: "#111" })));

  return {
    animation: false,
    backgroundColor: "#ffffff",
    polar: { center: [183.5, 177], radius: 166.5 },
    angleAxis: { type: "value", min: 0, max: 360, startAngle: 90, clockwise: true, show: false },
    radiusAxis: { type: "value", min: 0, max: 166.5, show: false },
    grid, xAxis, yAxis, series, graphic,
  };
}

export default function App() {
  const ref = useRef<HTMLDivElement>(null);
  useEffect(() => {
    document.body.style.margin = "0";
    const chart = echarts.init(ref.current!, undefined, { renderer: "svg" });
    chart.setOption(buildOption() as any);
    return () => chart.dispose();
  }, []);
  return <div ref={ref} style={{ width: 713, height: 667 }} />;
}
